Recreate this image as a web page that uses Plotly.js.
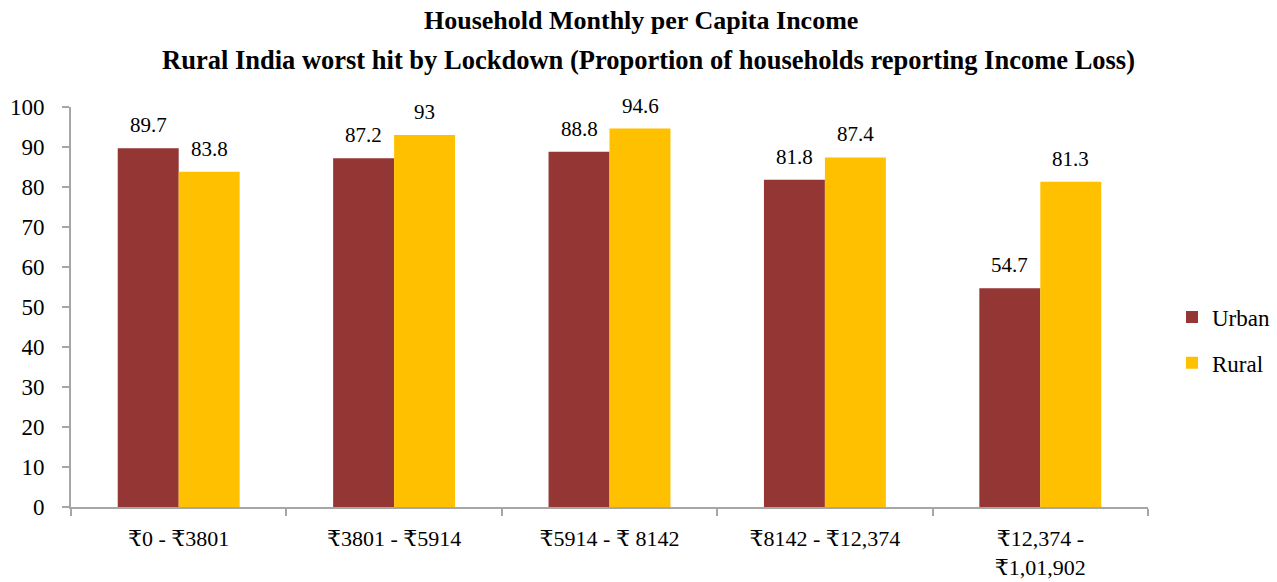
<!DOCTYPE html>
<html>
<head>
<meta charset="utf-8">
<script src="https://cdn.plot.ly/plotly-3.0.1.min.js"></script>
<style>html,body{margin:0;padding:0;background:#fff;}#chart{width:1277px;height:582px;}</style>
</head>
<body>
<div id="chart"></div>
<script>
const categories = ["₹0 - ₹3801", "₹3801 - ₹5914", "₹5914 - ₹ 8142", "₹8142 - ₹12,374", "₹12,374 -<br>₹1,01,902"];
const urban = [89.7, 87.2, 88.8, 81.8, 54.7];
const rural = [83.8, 93, 94.6, 87.4, 81.3];
const yTicks = [0, 10, 20, 30, 40, 50, 60, 70, 80, 90, 100];
const titleLine1 = "Household Monthly per Capita Income";
const titleLine2 = "Rural India worst hit by Lockdown (Proportion of households reporting Income Loss)";

const FONT = 'Liberation Serif, Times New Roman, DejaVu Serif, serif';
const BAR_HALF = 30.5; // pixel offset of each bar's center from category center

const traces = [
  {type: 'bar', name: 'Urban', x: categories, y: urban, marker: {color: '#943634'}, legendgroup: 'u'},
  {type: 'bar', name: 'Rural', x: categories, y: rural, marker: {color: '#FFC000'}, legendgroup: 'r'}
];

const labelAnns = [];
categories.forEach((c, i) => {
  labelAnns.push({x: c, y: urban[i], xref: 'x', yref: 'y', text: String(urban[i]), showarrow: false,
    xshift: -BAR_HALF, yshift: 9, yanchor: 'bottom', font: {family: FONT, size: 21, color: '#000'}});
  labelAnns.push({x: c, y: rural[i], xref: 'x', yref: 'y', text: String(rural[i]), showarrow: false,
    xshift: BAR_HALF, yshift: 9, yanchor: 'bottom', font: {family: FONT, size: 21, color: '#000'}});
});

const layout = {
  width: 1277, height: 582,
  margin: {l: 71, r: 129, t: 107, b: 75},
  paper_bgcolor: '#fff', plot_bgcolor: '#fff',
  font: {family: FONT, color: '#000'},
  barmode: 'group', bargap: 0.434, bargroupgap: 0,
  showlegend: true,
  legend: {xref: 'container', yref: 'container', x: 1172 / 1277, y: 1 - 340 / 582,
           xanchor: 'left', yanchor: 'middle', font: {family: FONT, size: 23},
           tracegroupgap: 13, itemwidth: 30},
  xaxis: {type: 'category', showline: true, linecolor: '#a6a6a6', linewidth: 2,
          ticks: 'outside', tickson: 'boundaries', ticklen: 7, tickcolor: '#a6a6a6', tickwidth: 2,
          tickfont: {family: FONT, size: 22}, showgrid: false, zeroline: false, ticklabelstandoff: 11},
  yaxis: {range: [0, 100], tickvals: yTicks, showline: true, linecolor: '#a6a6a6', linewidth: 2,
          ticks: 'outside', ticklen: 7, tickcolor: '#a6a6a6', tickwidth: 2,
          tickfont: {family: FONT, size: 23}, showgrid: false, zeroline: false, ticklabelstandoff: 13},
  annotations: [
    {text: '<b>' + titleLine1 + '</b>', xref: 'paper', yref: 'paper', x: 0.529, y: 1, xanchor: 'center', yanchor: 'bottom',
     yshift: 70, showarrow: false, font: {family: FONT, size: 26}},
    {text: '<b>' + titleLine2 + '</b>', xref: 'paper', yref: 'paper', x: 0.536, y: 1, xanchor: 'center', yanchor: 'bottom',
     yshift: 30, showarrow: false, font: {family: FONT, size: 26.5}}
  ].concat(labelAnns)
};

Plotly.newPlot('chart', traces, layout, {displayModeBar: false, staticPlot: true});
</script>
</body>
</html>
